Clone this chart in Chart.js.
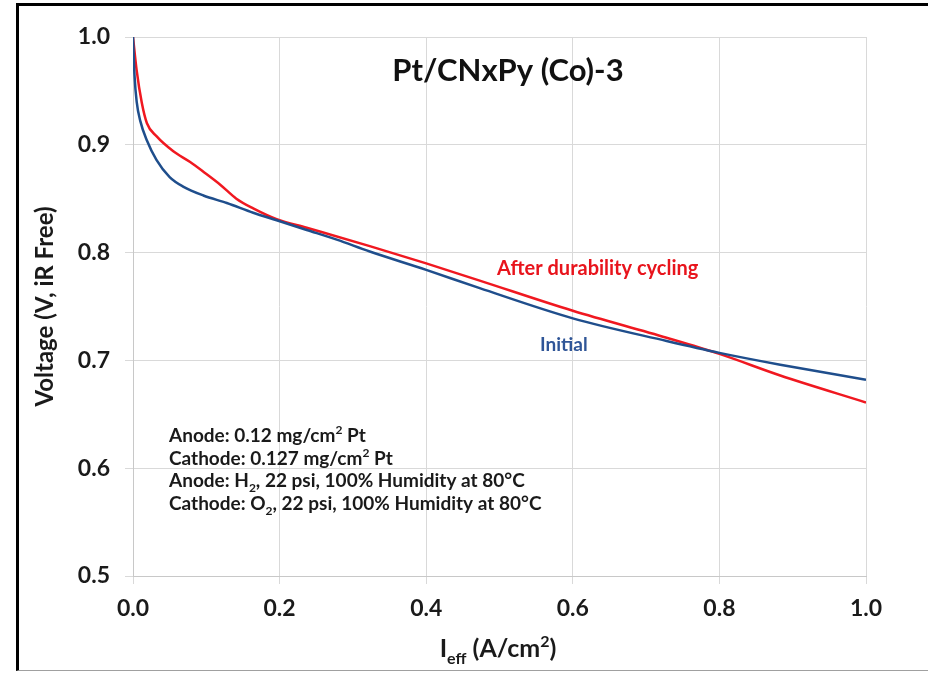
<!DOCTYPE html>
<html>
<head>
<meta charset="utf-8">
<script src="https://cdn.jsdelivr.net/npm/chart.js@4.4.1/dist/chart.umd.min.js"></script>
<style>
  body { margin: 0; background: #fff; }
  #wrap { position: relative; width: 928px; height: 673px; overflow: hidden; }
  #frame {
    position: absolute; left: 16px; top: 3px; width: 930px; height: 664px;
    border-left: 3px solid #000; border-top: 3px solid #000; border-bottom: 1px solid #a0a0a0;
  }
  #chart { position: absolute; left: 0; top: 0; }
</style>
</head>
<body>
<div id="wrap">
  <div id="frame"></div>
  <canvas id="chart" width="928" height="673"></canvas>
</div>

<script>
  // current density (A/cm2) and iR-free voltage (V)
  const initialI = [0.000, 0.002, 0.005, 0.010, 0.019, 0.032, 0.050, 0.069, 0.096, 0.128, 0.164, 0.196, 0.237, 0.278, 0.323, 0.400, 0.473, 0.600, 0.728, 0.800, 0.883, 1.000];
  const initialV = [1.000, 0.965, 0.940, 0.922, 0.904, 0.886, 0.870, 0.861, 0.853, 0.846, 0.837, 0.830, 0.821, 0.812, 0.801, 0.784, 0.767, 0.739, 0.718, 0.707, 0.696, 0.682];

  const afterI = [0.000, 0.005, 0.012, 0.019, 0.032, 0.055, 0.078, 0.096, 0.119, 0.141, 0.164, 0.196, 0.237, 0.323, 0.400, 0.473, 0.600, 0.728, 0.800, 0.883, 1.000];
  const afterV = [1.000, 0.969, 0.939, 0.920, 0.908, 0.894, 0.884, 0.875, 0.863, 0.850, 0.841, 0.831, 0.823, 0.806, 0.790, 0.774, 0.746, 0.721, 0.706, 0.686, 0.661];

  const xTicks = [0.0, 0.2, 0.4, 0.6, 0.8, 1.0];
  const yTicks = [0.5, 0.6, 0.7, 0.8, 0.9, 1.0];

  const chartTitle = 'Pt/CNxPy (Co)-3';
  const notes = [
    [['Anode: 0.12 mg/cm'], ['2', 'sup'], [' Pt']],
    [['Cathode: 0.127 mg/cm'], ['2', 'sup'], [' Pt']],
    [['Anode: H'], ['2', 'sub'], [', 22 psi, 100% Humidity at 80°C']],
    [['Cathode: O'], ['2', 'sub'], [', 22 psi, 100% Humidity at 80°C']]
  ];

  const FONT = 'Lato, "Open Sans", sans-serif';

  function toPoints(xs, ys) {
    return xs.map((x, i) => ({ x: x, y: ys[i] }));
  }

  // draw text made of normal / sub / sup runs, y is the baseline
  function drawRich(ctx, runs, x, y, size, color, align) {
    const small = Math.round(size * 0.65);
    ctx.save();
    ctx.fillStyle = color;
    ctx.textBaseline = 'alphabetic';
    ctx.textAlign = 'left';
    let total = 0;
    runs.forEach(r => {
      ctx.font = 'bold ' + (r[1] ? small : size) + 'px ' + FONT;
      total += ctx.measureText(r[0]).width;
    });
    let cx = align === 'center' ? x - total / 2 : x;
    runs.forEach(r => {
      ctx.font = 'bold ' + (r[1] ? small : size) + 'px ' + FONT;
      let dy = 0;
      if (r[1] === 'sub') dy = size * 0.28;
      if (r[1] === 'sup') dy = -size * 0.4;
      ctx.fillText(r[0], cx, y + dy);
      cx += ctx.measureText(r[0]).width;
    });
    ctx.restore();
  }

  const labels = {
    id: 'labels',
    afterDraw(chart) {
      const ctx = chart.ctx;
      drawRich(ctx, [[chartTitle]], 508, 81, 31, '#111', 'center');
      drawRich(ctx, [['After durability cycling']], 497, 275, 20, '#e8141c', 'left');
      drawRich(ctx, [['Initial']], 540, 351, 19, '#2f5597', 'left');
      notes.forEach((line, i) => drawRich(ctx, line, 169, 442 + i * 22.5, 19, '#1a1a1a', 'left'));
      drawRich(ctx, [['I'], ['eff', 'sub'], [' (A/cm'], ['2', 'sup'], [')']], 498, 657, 25, '#1a1a1a', 'center');
    }
  };

  function initChart() {
    const ctx = document.getElementById('chart').getContext('2d');

    new Chart(ctx, {
      type: 'line',
      data: {
        datasets: [
          {
            label: 'Initial',
            data: toPoints(initialI, initialV),
            borderColor: '#1f4e8c',
            borderWidth: 2.5,
            pointRadius: 0,
            cubicInterpolationMode: 'monotone',
            fill: false
          },
          {
            label: 'After durability cycling',
            data: toPoints(afterI, afterV),
            borderColor: '#f01820',
            borderWidth: 2.5,
            pointRadius: 0,
            cubicInterpolationMode: 'monotone',
            fill: false
          }
        ]
      },
      options: {
        responsive: false,
        animation: false,
        events: [],
        layout: { padding: { top: 37, right: 62, left: 0, bottom: 0 } },
        plugins: { legend: { display: false }, tooltip: { enabled: false } },
        scales: {
          x: {
            type: 'linear',
            min: 0,
            max: 1,
            afterFit: s => { s.height = 97; },
            afterBuildTicks: s => { s.ticks = xTicks.map(v => ({ value: v })); },
            grid: { color: '#d9d9d9', tickLength: 8, tickColor: '#d9d9d9' },
            border: { color: '#c8c8c8' },
            ticks: {
              padding: 11,
              color: '#1a1a1a',
              font: { family: FONT, size: 23, weight: 'bold' },
              callback: v => v.toFixed(1)
            }
          },
          y: {
            type: 'linear',
            min: 0.5,
            max: 1.0,
            afterFit: s => { s.width = 133; },
            afterBuildTicks: s => { s.ticks = yTicks.map(v => ({ value: v })); },
            grid: { color: '#d9d9d9', tickLength: 8, tickColor: '#d9d9d9' },
            border: { color: '#c8c8c8' },
            ticks: {
              padding: 15,
              color: '#1a1a1a',
              font: { family: FONT, size: 23, weight: 'bold' },
              callback: v => v.toFixed(1)
            },
            title: {
              display: true,
              text: 'Voltage (V, iR Free)',
              color: '#1a1a1a',
              font: { family: FONT, size: 24, weight: 'bold' },
              padding: { top: 31, bottom: 0 }
            }
          }
        }
      },
      plugins: [labels]
    });
  }

  requestAnimationFrame(initChart);
</script>
</body>
</html>
